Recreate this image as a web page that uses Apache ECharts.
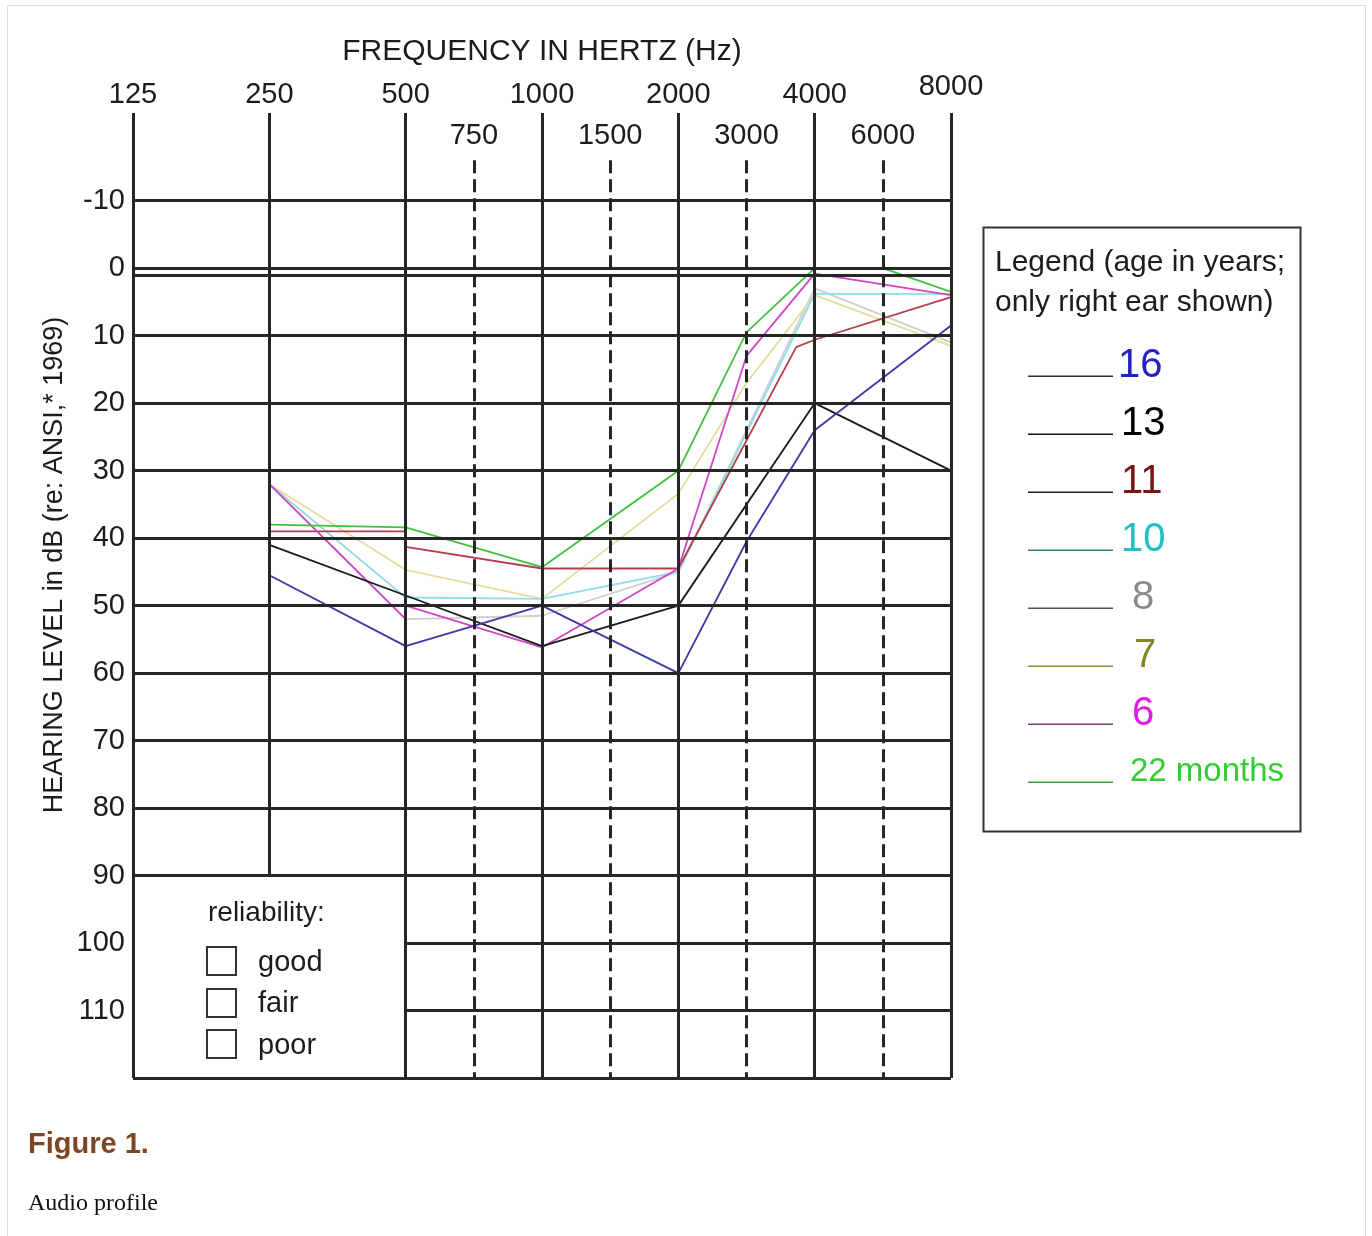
<!DOCTYPE html>
<html><head><meta charset="utf-8">
<script src="https://cdn.jsdelivr.net/npm/echarts@6/dist/echarts.min.js"></script>
<style>html,body{margin:0;padding:0;background:#fff;}#c{width:1372px;height:1236px;}</style>
</head><body><div id="c"></div>
<script>
// ---- axis data ----
const mainFreqs = [125, 250, 500, 1000, 2000, 4000, 8000];
const halfFreqs = [750, 1500, 3000, 6000];
const dbTicks = [-10, 0, 10, 20, 30, 40, 50, 60, 70, 80, 90, 100, 110];

// ---- series data (frequency in Hz, hearing level in dB) ----
const freq16 = [250, 500, 1000, 2000, 3000, 4000, 8000];
const hl16   = [45.5, 56, 50, 60, 40.5, 24, 8.5];
const freq13 = [250, 500, 1000, 2000, 4000, 8000];
const hl13   = [41, 48.5, 56, 50, 20, 30];
const freq11 = [250, 500, 500, 1000, 2000, 3700, 4000, 8000];
const hl11   = [39, 39, 41.3, 44.5, 44.5, 11.7, 10.6, 4.3];
const freq10 = [250, 500, 1000, 2000, 4000, 8000];
const hl10   = [32, 48.8, 49, 45, 3.8, 3.8];
const freq8  = [250, 500, 1000, 2000, 4000, 8000];
const hl8    = [32, 52, 51.5, 45, 3, 11];
const freq7  = [250, 500, 1000, 2000, 3000, 4000, 8000];
const hl7    = [32, 44.7, 49, 33.4, 17, 4, 11.5];
const freq6  = [250, 500, 500, 1000, 2000, 3000, 4000, 8000];
const hl6    = [32, 52, 50, 56.2, 44.5, 13, 0.8, 4];
const freq22m = [250, 500, 1000, 2000, 3000, 4000, 6000, 8000];
const hl22m   = [38, 38.4, 44.3, 30, 9.5, 0, 0, 3.5];

const FONT = "'Liberation Sans', Arial, Helvetica, sans-serif";
const GRID = '#262626';
const TXT = '#1c1c1c';
const Y_TOP = -23, Y_BOTTOM = 120;

// audiogram slot positions: octaves evenly spaced, inter-octaves at midpoints
const slots = mainFreqs.map((f, i) => [f, i]).concat(halfFreqs.map((f, i) => [f, i + 2.5])).sort((a, b) => a[0] - b[0]);
function pos(f) {
  for (let k = 0; k < slots.length; k++) {
    if (slots[k][0] === f) return slots[k][1];
    if (slots[k][0] > f) {
      const a = slots[k - 1], b = slots[k];
      return a[1] + (b[1] - a[1]) * Math.log(f / a[0]) / Math.log(b[0] / a[0]);
    }
  }
  return slots[slots.length - 1][1];
}
const pts = (fs, hs) => fs.map((f, i) => [pos(f), hs[i]]);

// ---- grid lines built from tick arrays ----
const gridLines = [];
const solid = { color: GRID, width: 3, type: 'solid' };
dbTicks.concat([Y_BOTTOM]).forEach(t => {
  const x0 = t >= 100 && t < Y_BOTTOM ? pos(500) : 0;
  gridLines.push([{ coord: [x0, t], lineStyle: solid }, { coord: [pos(8000), t] }]);
});
// doubled zero line
gridLines.push([{ coord: [0, 1.1], lineStyle: solid }, { coord: [pos(8000), 1.1] }]);
mainFreqs.forEach(f => {
  const yEnd = f === 250 ? 90 : Y_BOTTOM;
  gridLines.push([{ coord: [pos(f), Y_TOP], lineStyle: solid }, { coord: [pos(f), yEnd] }]);
});
halfFreqs.forEach(f => {
  gridLines.push([{ coord: [pos(f), -16], lineStyle: { color: GRID, width: 3, type: [13, 6] } }, { coord: [pos(f), Y_BOTTOM] }]);
});

const seriesDefs = [
  { name: '8', fs: freq8, hs: hl8, color: '#cfcfcf' },
  { name: '7', fs: freq7, hs: hl7, color: '#e6dc9c' },
  { name: '10', fs: freq10, hs: hl10, color: '#8fdde6' },
  { name: '11', fs: freq11, hs: hl11, color: '#b53d4c' },
  { name: '6', fs: freq6, hs: hl6, color: '#d145c9' },
  { name: '13', fs: freq13, hs: hl13, color: '#1a1a1a' },
  { name: '16', fs: freq16, hs: hl16, color: '#3a3aa6' },
  { name: '22 months', fs: freq22m, hs: hl22m, color: '#3fc23f' }
];

const series = [{
  type: 'line', name: 'grid', data: [], silent: true, z: 1,
  markLine: { silent: true, symbol: 'none', label: { show: false }, animation: false, data: gridLines }
}].concat(seriesDefs.map(s => ({
  type: 'line', name: s.name, data: pts(s.fs, s.hs), symbol: 'none', z: 3,
  lineStyle: { color: s.color, width: 1.8 }, itemStyle: { color: s.color }
})));

const legendDefs = [
  { name: '16', text: '#2323c4', line: '#333333', size: 40, pad: 0 },
  { name: '13', text: '#000000', line: '#111111', size: 40, pad: 3 },
  { name: '11', text: '#7a1414', line: '#222222', size: 40, pad: 3 },
  { name: '10', text: '#22c0c4', line: '#2e7f80', size: 40, pad: 3 },
  { name: '8', text: '#8a8a8a', line: '#555555', size: 40, pad: 14 },
  { name: '7', text: '#858522', line: '#8a8a3a', size: 40, pad: 16 },
  { name: '6', text: '#e020e0', line: '#7a3a7a', size: 40, pad: 14 },
  { name: '22 months', text: '#33cc33', line: '#3aa03a', size: 33, pad: 12 }
];

const chart = echarts.init(document.getElementById('c'), null, { renderer: 'canvas' });
chart.setOption({
  animation: false,
  backgroundColor: '#ffffff',
  textStyle: { fontFamily: FONT },
  grid: { left: 133, right: 421, top: 113, bottom: 158 },
  xAxis: [{
    type: 'value', min: 0, max: 6, interval: 1, position: 'top',
    axisLine: { show: false }, axisTick: { show: false }, splitLine: { show: false },
    axisLabel: {
      fontSize: 29, color: TXT, margin: 4, fontFamily: FONT,
      formatter: v => { const f = mainFreqs[Math.round(v)]; return f === 8000 ? '{hi|' + f + '}' : String(f); },
      rich: { hi: { fontSize: 29, color: TXT, fontFamily: FONT, padding: [0, 0, 8, 0] } }
    },
    name: 'FREQUENCY IN HERTZ (Hz)', nameLocation: 'middle', nameGap: 44,
    nameTextStyle: { fontSize: 30, color: TXT, fontFamily: FONT }
  }, {
    type: 'value', min: 0, max: 6, position: 'top', offset: -45,
    axisLine: { show: false }, axisTick: { show: false }, splitLine: { show: false },
    axisLabel: {
      customValues: halfFreqs.map(pos), fontSize: 29, color: TXT, margin: 8, fontFamily: FONT,
      formatter: v => String(halfFreqs[Math.round(v - 2.5)])
    }
  }],
  yAxis: {
    type: 'value', min: Y_TOP, max: Y_BOTTOM, inverse: true,
    axisLine: { show: false }, axisTick: { show: false }, splitLine: { show: false },
    axisLabel: { customValues: dbTicks, fontSize: 29, color: TXT, margin: 8, fontFamily: FONT }
  },
  legend: {
    orient: 'vertical', left: 1028, top: 346, padding: 0, itemWidth: 85, itemHeight: 22, itemGap: 18,
    selectedMode: false,
    icon: 'path://M0,0L85,0L85,0.05L0,0.05Z M0,20.5L85,20.5L85,22L0,22Z',
    textStyle: { fontSize: 40, lineHeight: 40, fontFamily: FONT },
    data: legendDefs.map(d => ({
      name: d.name,
      itemStyle: { color: d.line },
      textStyle: { color: d.text, fontSize: d.size, lineHeight: 40, padding: [0, 0, 0, d.pad], fontFamily: FONT }
    }))
  },
  graphic: [
    { type: 'rect', shape: { x: 7.5, y: 5.5, width: 1358, height: 1250 }, style: { fill: 'none', stroke: '#dcdcdc', lineWidth: 1 }, z: 0, silent: true },
    { type: 'text', x: 55, y: 565, rotation: Math.PI / 2, style: { text: 'HEARING LEVEL in dB (re: ANSI,* 1969)', font: '27px ' + FONT, fill: TXT, align: 'center', verticalAlign: 'middle' } },
    { type: 'rect', shape: { x: 983.5, y: 227.5, width: 317, height: 604 }, style: { fill: 'none', stroke: '#333', lineWidth: 2 }, silent: true },
    { type: 'text', x: 995, y: 263, style: { text: 'Legend (age in years;', font: '30px ' + FONT, fill: TXT, align: 'left', verticalAlign: 'middle' } },
    { type: 'text', x: 995, y: 303, style: { text: 'only right ear shown)', font: '30px ' + FONT, fill: TXT, align: 'left', verticalAlign: 'middle' } },
    { type: 'text', x: 208, y: 913, style: { text: 'reliability:', font: '28px ' + FONT, fill: TXT, align: 'left', verticalAlign: 'middle' } },
    { type: 'rect', shape: { x: 207, y: 947, width: 29, height: 28 }, style: { fill: 'none', stroke: '#333', lineWidth: 2 } },
    { type: 'rect', shape: { x: 207, y: 989, width: 29, height: 28 }, style: { fill: 'none', stroke: '#333', lineWidth: 2 } },
    { type: 'rect', shape: { x: 207, y: 1030, width: 29, height: 28 }, style: { fill: 'none', stroke: '#333', lineWidth: 2 } },
    { type: 'text', x: 258, y: 963, style: { text: 'good', font: '29px ' + FONT, fill: TXT, align: 'left', verticalAlign: 'middle' } },
    { type: 'text', x: 258, y: 1004, style: { text: 'fair', font: '29px ' + FONT, fill: TXT, align: 'left', verticalAlign: 'middle' } },
    { type: 'text', x: 258, y: 1046, style: { text: 'poor', font: '29px ' + FONT, fill: TXT, align: 'left', verticalAlign: 'middle' } },
    { type: 'text', x: 28, y: 1145, style: { text: 'Figure 1.', font: 'bold 29px ' + FONT, fill: '#7c4726', align: 'left', verticalAlign: 'middle' } },
    { type: 'text', x: 28, y: 1204, style: { text: 'Audio profile', font: "24px 'Liberation Serif', 'Times New Roman', serif", fill: '#111', align: 'left', verticalAlign: 'middle' } }
  ],
  series: series
});
</script></body></html>
